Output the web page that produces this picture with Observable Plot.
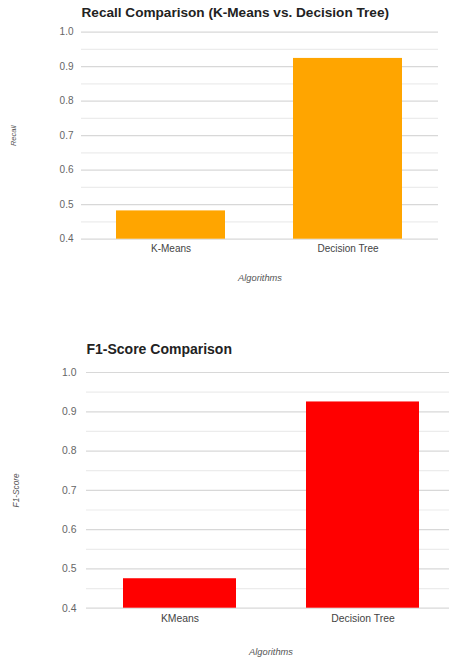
<!DOCTYPE html>
<html>
<head>
<meta charset="utf-8">
<script src="https://cdn.jsdelivr.net/npm/d3@7"></script>
<script src="https://cdn.jsdelivr.net/npm/@observablehq/plot@0.6"></script>
<style>
  html, body { margin: 0; padding: 0; background: #fff; overflow: hidden; }
  body { width: 449px; height: 659px; position: relative; font-family: "Liberation Sans", Arial, sans-serif; }
  .chart { position: absolute; left: 0; }
  svg { overflow: visible; }
</style>
</head>
<body>
<div id="c1" class="chart" style="top:0px"></div>
<div id="c2" class="chart" style="top:300px"></div>
<script>
// ---- data ----
const recallAlgorithms = ["K-Means", "Decision Tree"];
const recallValues = [0.482, 0.924];
const f1Algorithms = ["KMeans", "Decision Tree"];
const f1Values = [0.475, 0.925];
const yDomain = [0.4, 1.0];
const majorTicks = [0.4, 0.5, 0.6, 0.7, 0.8, 0.9, 1.0];
const minorTicks = [0.45, 0.55, 0.65, 0.75, 0.85, 0.95];

function makeChart(cfg) {
  const data = cfg.cats.map((c, i) => ({algo: c, value: cfg.values[i]}));
  return Plot.plot({
    width: 449,
    height: cfg.height,
    marginLeft: cfg.left,
    marginRight: cfg.right,
    marginTop: cfg.top,
    marginBottom: cfg.bottom,
    style: {fontFamily: '"Liberation Sans", Arial, sans-serif', background: "#fff", overflow: "visible"},
    x: {domain: cfg.cats, range: cfg.xRange, paddingInner: cfg.pi, paddingOuter: cfg.po, label: null},
    y: {domain: yDomain, label: null},
    marks: [
      Plot.ruleY(minorTicks, {stroke: "#ececec", strokeWidth: 1.2}),
      Plot.ruleY(majorTicks, {stroke: "#d8d8d8", strokeWidth: 1.2}),
      Plot.barY(data, {x: "algo", y1: () => yDomain[0], y2: "value", fill: cfg.color, inset: 0}),
      Plot.axisY({ticks: majorTicks, tickSize: 0, tickPadding: cfg.ytp, tickFormat: d3.format(".1f"), fill: "#666", fontSize: cfg.tickFont, label: null}),
      Plot.axisX({tickSize: 0, tickPadding: cfg.xtp, fill: "#444", fontSize: cfg.tickFont, label: null}),
      Plot.text([cfg.title], {frameAnchor: "top-left", dy: cfg.titleDy, textAnchor: "start", lineAnchor: "middle", fontSize: cfg.titleFont, fontWeight: "bold", fill: "#222"}),
      Plot.text([cfg.ylabel], {frameAnchor: "left", dx: cfg.ylabDx, rotate: -90, textAnchor: "middle", lineAnchor: "middle", fontSize: cfg.ylabFont, fontStyle: "italic", fill: "#555"}),
      Plot.text(["Algorithms"], {frameAnchor: "bottom", dx: cfg.xlabDx, dy: cfg.xlabDy, textAnchor: "middle", lineAnchor: "middle", fontSize: 9.3, fontStyle: "italic", fill: "#555"})
    ]
  });
}

document.getElementById("c1").append(makeChart({
  cats: recallAlgorithms, values: recallValues, color: "#FFA500",
  height: 300, left: 81, right: 11, top: 31.7, bottom: 61.3,
  xRange: [81, 438], pi: 0.382, po: 0.194,
  ytp: 8, xtp: 5.5, tickFont: 10,
  title: "Recall Comparison (K-Means vs. Decision Tree)", titleDy: -19.7, titleFont: 13.6,
  ylabel: "Recall", ylabDx: -68, ylabFont: 7.5,
  xlabDx: 0, xlabDy: 38.5
}));

document.getElementById("c2").append(makeChart({
  cats: f1Algorithms, values: f1Values, color: "#FF0000",
  height: 359, left: 86, right: 0, top: 72, bottom: 51.3,
  xRange: [86, 455], pi: 0.385, po: 0.196,
  ytp: 10, xtp: 6.5, tickFont: 10.4,
  title: "F1-Score Comparison", titleDy: -23, titleFont: 14,
  ylabel: "F1-Score", ylabDx: -70, ylabFont: 8.3,
  xlabDx: 3, xlabDy: 43.5
}));
</script>
</body>
</html>
